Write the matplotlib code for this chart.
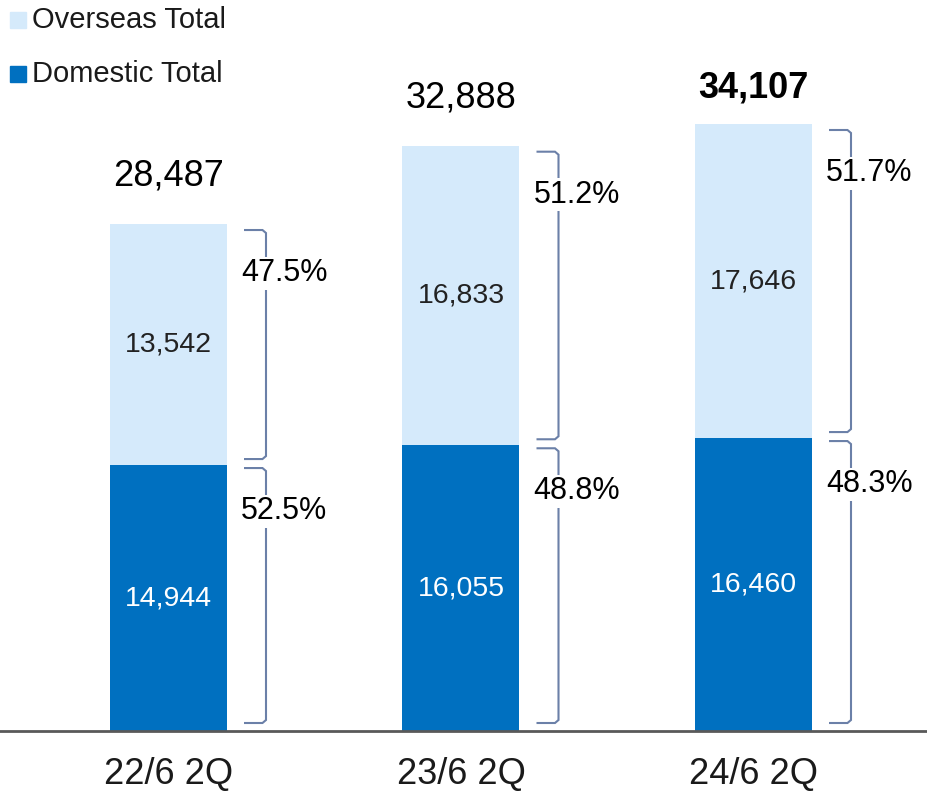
import matplotlib.pyplot as plt
from matplotlib.patches import Rectangle
from matplotlib.path import Path
from matplotlib.patches import PathPatch

plt.rcParams['font.family'] = ['Liberation Sans', 'DejaVu Sans']

periodos = ["22/6 2Q", "23/6 2Q", "24/6 2Q"]
domestico = [14944, 16055, 16460]
exterior = [13542, 16833, 17646]
totais = [28487, 32888, 34107]
pct_exterior = ["47.5%", "51.2%", "51.7%"]
pct_domestico = ["52.5%", "48.8%", "48.3%"]

cor_dom = "#0070C0"
cor_ext = "#D5EAFB"
cor_chave = "#6B80A8"

fig = plt.figure(figsize=(9.28, 7.93), dpi=100)
ax = fig.add_axes([0, 62 / 793, 1, 731 / 793])

x = list(range(len(periodos)))
largura = 0.4
ax.bar(x, domestico, largura, color=cor_dom, zorder=2)
ax.bar(x, exterior, largura, bottom=domestico, color=cor_ext, zorder=2)

escala = 607 / 34107  # pixels por unidade
ax.set_ylim(0, 731 / escala)
ax.set_xlim(-168.5 / 292.5, (928 - 168.5) / 292.5)


def px(n):
    return n / escala


def chave(x0, xl, topo, base):
    # colchete vertical com ganchos curtos em cima e embaixo
    c = 0.012
    r = px(3)
    verts = [(x0, topo), (xl - c, topo), (xl, topo - r), (xl, base + r),
             (xl - c, base), (x0, base)]
    codes = [Path.MOVETO] + [Path.LINETO] * 5
    ax.add_patch(PathPatch(Path(verts, codes), fill=False, edgecolor=cor_chave,
                           linewidth=1.5, zorder=3, clip_on=False))


for i in x:
    d = domestico[i]
    e = exterior[i]
    t = totais[i]
    ax.text(i, d / 2, f"{d:,}", ha="center", va="center", color="white", fontsize=20.5)
    ax.text(i, d + e / 2, f"{e:,}", ha="center", va="center", color="#222222", fontsize=20.5)
    peso = "bold" if i == len(x) - 1 else "normal"
    ax.annotate(f"{t:,}", (i, t), xytext=(0, 22 if i < 2 else 13), textcoords="offset points",
                ha="center", va="bottom", fontsize=26, fontweight=peso, color="black")

    x0 = i + largura / 2 + 17 / 292.5
    xl = i + largura / 2 + 39 / 292.5
    chave(x0, xl, t - px(6), d + px(6))
    chave(x0, xl, d - px(3), px(8))
    for topo, txt in [(t - px(6), pct_exterior[i]), (d - px(3), pct_domestico[i])]:
        ax.annotate(txt, (x0, topo), xytext=(-2, -31), textcoords="offset points",
                    ha="left", va="center", fontsize=22, color="black", zorder=4,
                    bbox=dict(facecolor="white", edgecolor="none", pad=1))

ax.set_xticks(x)
ax.set_xticklabels(periodos, fontsize=26, color="#1a1a1a")
ax.tick_params(axis="x", length=0, pad=19)
ax.set_yticks([])
for lado in ["top", "right", "left"]:
    ax.spines[lado].set_visible(False)
ax.spines["bottom"].set_color("#595959")
ax.spines["bottom"].set_linewidth(2)

# legenda
for y, cor, nome in [(20, cor_ext, "Overseas Total"), (74, cor_dom, "Domestic Total")]:
    fig.add_artist(Rectangle((10 / 928, 1 - (y + 8) / 793), 16 / 928, 16 / 793,
                             transform=fig.transFigure, color=cor))
    fig.text(32 / 928, 1 - y / 793, nome, fontsize=21, va="center", ha="left", color="#1a1a1a")

plt.savefig("out.png", dpi=100)
